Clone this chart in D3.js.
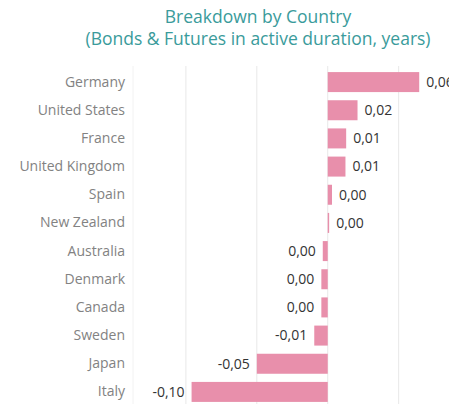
<!DOCTYPE html>
<html><head><meta charset="utf-8">
<script src="https://cdn.jsdelivr.net/npm/d3@7/dist/d3.min.js"></script>
<style>body{margin:0;background:#fff;} svg{display:block;}</style>
</head><body>
<script>
const countries = ["Germany","United States","France","United Kingdom","Spain","New Zealand","Australia","Denmark","Canada","Sweden","Japan","Italy"];
const values = [0.0645,0.021,0.013,0.0125,0.003,0.001,-0.0035,-0.0045,-0.0045,-0.0095,-0.05,-0.096];
const gridTicks = [-0.10,-0.05,0,0.05];
const titleLines = ["Breakdown by Country","(Bonds & Futures in active duration, years)"];

const W=449,H=404;
const FONT="'Open Sans', sans-serif";
const svg=d3.select("body").append("svg").attr("width",W).attr("height",H);
const x=d3.scaleLinear().domain([-0.1373,0.0855]).range([133,449]);
const y=d3.scaleBand().domain(countries).range([68,406]).paddingInner(0.29).paddingOuter(0.145);

svg.append("line").attr("x1",133).attr("x2",133).attr("y1",66).attr("y2",404).attr("stroke","#f2f2f2");
svg.selectAll(".grid").data(gridTicks).enter().append("line")
  .attr("x1",d=>x(d)).attr("x2",d=>x(d)).attr("y1",66).attr("y2",404)
  .attr("stroke","#e8e8e8").attr("stroke-width",1);

svg.selectAll(".bar").data(values).enter().append("rect")
  .attr("x",d=>x(Math.min(0,d))).attr("width",d=>Math.abs(x(d)-x(0)))
  .attr("y",(d,i)=>y(countries[i])).attr("height",y.bandwidth())
  .attr("fill","#e88fab");

const fmt=d=>{const r=Math.abs(d)<0.005?0:d; return (r<0?"-":"")+Math.abs(r).toFixed(2).replace(".",",");};
svg.selectAll(".val").data(values).enter().append("text")
  .attr("x",d=>d>=0?x(d)+7:x(d)-7)
  .attr("y",(d,i)=>y(countries[i])+y.bandwidth()/2)
  .attr("dy","0.35em").attr("text-anchor",d=>d>=0?"start":"end")
  .attr("font-family",FONT).attr("font-size",14).attr("fill","#333")
  .text(fmt);

const yAxis=d3.axisLeft(y).tickSize(0).tickPadding(0);
const g=svg.append("g").attr("transform","translate(125,0)").call(yAxis);
g.select(".domain").remove();
g.selectAll("text").attr("font-family",FONT).attr("font-size",14).attr("fill","#828282");

svg.selectAll(".title").data(titleLines).enter().append("text")
  .attr("x",258).attr("y",(d,i)=>23+i*22).attr("text-anchor","middle")
  .attr("font-family",FONT).attr("font-size",17.5).attr("fill","#3a9b9b")
  .text(d=>d);
</script>
</body></html>
